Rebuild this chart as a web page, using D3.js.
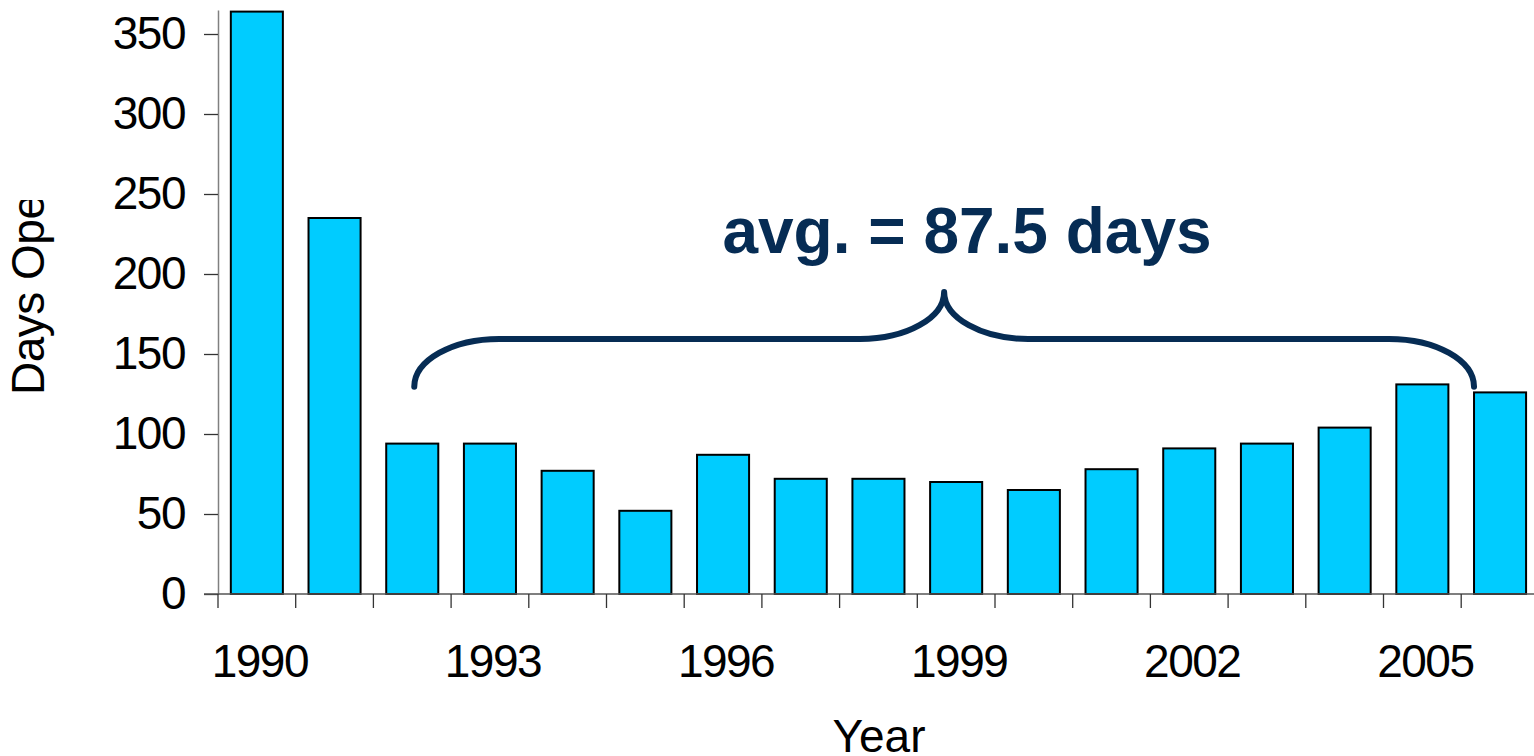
<!DOCTYPE html>
<html>
<head>
<meta charset="utf-8">
<script src="https://cdn.jsdelivr.net/npm/d3@7"></script>
<style>
  body { margin: 0; background: #fff; }
  text { font-family: "Liberation Sans", Arial, sans-serif; }
</style>
</head>
<body>
<div id="chart"></div>
<script>
// data
const years = [1990, 1991, 1992, 1993, 1994, 1995, 1996, 1997, 1998, 1999,
               2000, 2001, 2002, 2003, 2004, 2005, 2006];
const daysOpen = [364, 235, 94, 94, 77, 52, 87, 72, 72, 70, 65, 78, 91, 94, 104, 131, 126];
const yTicks = [0, 50, 100, 150, 200, 250, 300, 350];
const labelYears = [1990, 1993, 1996, 1999, 2002, 2005];
const avgText = 'avg. = 87.5 days';

const width = 1534, height = 756;
const navy = '#062c54';

const svg = d3.select('#chart').append('svg')
    .attr('width', width).attr('height', height);

let x = d3.scaleBand()
    .domain(years)
    .range([218, 218 + 17 * 77.7])
    .paddingInner(0.33)
    .paddingOuter(0.165);

let y = d3.scaleLinear().domain([0, 365]).range([594, 10]);

// bars
svg.selectAll('rect.bar')
    .data(years)
    .enter()
    .append('rect')
    .attr('class', 'bar')
    .attr('x', d => x(d))
    .attr('width', x.bandwidth())
    .attr('y', (d, i) => y(daysOpen[i]))
    .attr('height', (d, i) => y(0) - y(daysOpen[i]))
    .attr('fill', '#00ccff')
    .attr('stroke', '#000')
    .attr('stroke-width', 2);

// y axis
let yAxis = svg.append('g')
    .attr('transform', 'translate(218,0)')
    .call(d3.axisLeft(y).tickValues(yTicks).tickSize(14).tickSizeOuter(0).tickPadding(19));
yAxis.select('.domain').attr('stroke', '#808080').attr('stroke-width', 1.5);
yAxis.selectAll('.tick line').attr('stroke', '#333').attr('stroke-width', 1.3);
yAxis.selectAll('.tick text')
    .attr('font-size', 46)
    .attr('font-family', '"Liberation Sans", Arial, sans-serif')
    .attr('letter-spacing', -1.5)
    .attr('fill', '#000');

// x axis: line + ticks at band boundaries
let step = x.step();
let x0 = x.range()[0];
svg.append('line')
    .attr('x1', 204).attr('x2', width)
    .attr('y1', y(0)).attr('y2', y(0))
    .attr('stroke', '#555').attr('stroke-width', 1.5);

let boundaries = d3.range(years.length + 1).map(i => x0 + i * step);
svg.selectAll('line.xtick')
    .data(boundaries)
    .enter()
    .append('line')
    .attr('class', 'xtick')
    .attr('x1', d => d).attr('x2', d => d)
    .attr('y1', y(0)).attr('y2', y(0) + 14)
    .attr('stroke', '#333').attr('stroke-width', 1.3);

svg.selectAll('text.xlabel')
    .data(labelYears)
    .enter()
    .append('text')
    .attr('class', 'xlabel')
    .attr('x', d => x(d) + x.bandwidth() / 2 + 3)
    .attr('y', 677)
    .attr('text-anchor', 'middle')
    .attr('font-size', 46)
    .attr('letter-spacing', -1.5)
    .text(d => d);

// axis titles
svg.append('text')
    .attr('x', 879).attr('y', 752)
    .attr('text-anchor', 'middle')
    .attr('font-size', 46)
    .text('Year');

// the original title box cuts "Days Open" off after the "e"
svg.append('clipPath').attr('id', 'ytitle-clip')
    .append('rect').attr('x', 0).attr('y', 200).attr('width', 120).attr('height', 400);

svg.append('g')
    .attr('clip-path', 'url(#ytitle-clip)')
    .append('text')
    .attr('transform', 'translate(44,395) rotate(-90)')
    .attr('font-size', 46)
    .attr('letter-spacing', -0.5)
    .text('Days Open');

// brace over 1992-2006
let bL = x(1992) + x.bandwidth() / 2 + 2;
let bR = x(2006);
let bM = (bL + bR) / 2;
let yEnd = y(129.5), yMid = y(159.4), yTip = y(188.8);
let k = 0.552;
let rx = 85, rTip = 84;
let brace = d3.path();
brace.moveTo(bL, yEnd);
brace.bezierCurveTo(bL, yEnd - k * (yEnd - yMid), bL + rx - k * rx, yMid, bL + rx, yMid);
brace.lineTo(bM - rTip, yMid);
brace.bezierCurveTo(bM - rTip + k * rTip, yMid, bM, yTip + k * (yMid - yTip), bM, yTip);
brace.bezierCurveTo(bM, yTip + k * (yMid - yTip), bM + rTip - k * rTip, yMid, bM + rTip, yMid);
brace.lineTo(bR - rx, yMid);
brace.bezierCurveTo(bR - rx + k * rx, yMid, bR, yEnd - k * (yEnd - yMid), bR, yEnd);

svg.append('path')
    .attr('d', brace.toString())
    .attr('fill', 'none')
    .attr('stroke', navy)
    .attr('stroke-width', 6)
    .attr('stroke-linecap', 'round')
    .attr('stroke-linejoin', 'round');

svg.append('text')
    .attr('x', 967).attr('y', 253)
    .attr('text-anchor', 'middle')
    .attr('font-size', 64)
    .attr('font-weight', 'bold')
    .attr('fill', navy)
    .text(avgText);
</script>
</body>
</html>
